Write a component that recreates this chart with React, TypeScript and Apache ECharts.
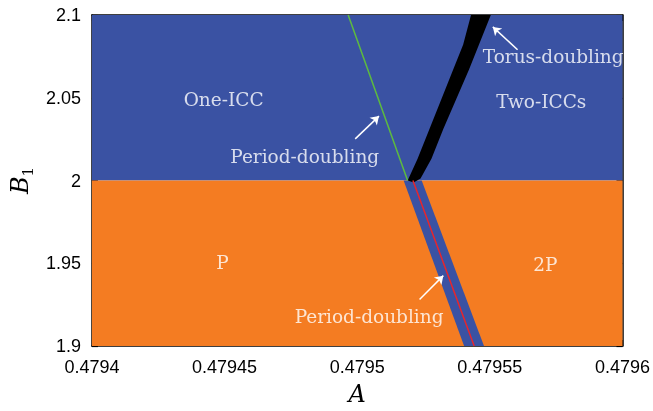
import React, { useEffect, useRef } from "react";
import * as echarts from "echarts";

// Axis ranges and ticks
const xMin = 0.4794;
const xMax = 0.4796;
const xStep = 0.00005;
const yMin = 1.9;
const yMax = 2.1;
const yStep = 0.05;
const yBoundary = 2.0;

// Regions
const upperRegion: number[][] = [[xMin, yBoundary], [xMax, yBoundary], [xMax, yMax], [xMin, yMax]];
const lowerRegion: number[][] = [[xMin, yMin], [xMax, yMin], [xMax, yBoundary], [xMin, yBoundary]];
const torusBand: number[][] = [
  [0.47951903, 2.0],
  [0.47952276, 2.01317],
  [0.47952724, 2.03114],
  [0.47953172, 2.0491],
  [0.47953619, 2.06707],
  [0.47953993, 2.08204],
  [0.47954291, 2.1],
  [0.47955037, 2.1],
  [0.47954664, 2.08503],
  [0.47954216, 2.06707],
  [0.47953731, 2.0491],
  [0.47953246, 2.03114],
  [0.47952799, 2.01317],
  [0.47952388, 2.0012],
  [0.47952127, 1.9988],
];
const twoPBand: number[][] = [
  [0.4795175, 2.0],
  [0.4795243, 2.0],
  [0.4795478, 1.9],
  [0.4795403, 1.9],
];
const greenLine: number[][] = [[0.4794966, 2.1], [0.479519, 2.0]];
const redLine: number[][] = [[0.479521, 2.0], [0.4795441, 1.9]];

// Annotation arrows [tail, head]
const arrows: number[][][] = [
  [[0.47949925, 2.02515], [0.47950821, 2.03892]],
  [[0.47956045, 2.07904], [0.47955112, 2.09281]],
  [[0.47952351, 1.92814], [0.47953246, 1.94251]],
];

// Annotation labels
const labelNames = ["One-ICC", "Period-doubling", "Two-ICCs", "Torus-doubling", "P", "2P", "Period-doubling"];
const labelX = [0.47944963, 0.47948022, 0.4795694, 0.47957388, 0.47944925, 0.4795709, 0.47950448];
const labelY = [2.0491, 2.01437, 2.0479, 2.07485, 1.9503, 1.9491, 1.91796];

const BLUE = "#3a52a3";
const ORANGE = "#f47c22";

function polySeries(points: number[][], color: string, z: number) {
  return {
    type: "custom",
    z,
    silent: true,
    clip: true,
    data: [0],
    renderItem: (_params: any, api: any) => ({
      type: "polygon",
      shape: { points: points.map((p) => api.coord(p)) },
      style: { fill: color, stroke: "none" },
    }),
  };
}

const fmt = (v: number) => String(parseFloat(v.toFixed(6)));

export default function App() {
  const ref = useRef<HTMLDivElement>(null);
  useEffect(() => {
    if (!ref.current) return;
    const chart = echarts.init(ref.current, undefined, { renderer: "svg" });
    const tickFont = { fontFamily: "Liberation Sans", fontSize: 18, color: "#000" };
    const axisLine = { show: true, lineStyle: { color: "#000", width: 1.5 } };
    const axisTick = { show: true, inside: true, length: 6, lineStyle: { color: "#000", width: 1.2 } };
    chart.setOption({
      animation: false,
      grid: { left: 87, right: 30, top: 15, bottom: 62 },
      xAxis: [
        {
          type: "value",
          min: xMin,
          max: xMax,
          interval: xStep,
          axisLine,
          axisTick,
          splitLine: { show: false },
          axisLabel: { ...tickFont, margin: 12, formatter: fmt },
          name: "A",
          nameLocation: "middle",
          nameGap: 36,
          nameTextStyle: { fontFamily: "DejaVu Serif", fontStyle: "italic", fontSize: 24, color: "#000" },
        },
        {
          type: "value",
          position: "top",
          min: xMin,
          max: xMax,
          interval: xStep,
          axisLine,
          axisTick,
          splitLine: { show: false },
          axisLabel: { show: false },
        },
      ],
      yAxis: [
        {
          type: "value",
          min: yMin,
          max: yMax,
          interval: yStep,
          axisLine,
          axisTick,
          splitLine: { show: false },
          axisLabel: { ...tickFont, margin: 11, formatter: fmt },
          name: "{b|B}{s|1}",
          nameLocation: "middle",
          nameRotate: 90,
          nameGap: 54,
          nameTextStyle: {
            rich: {
              b: { fontFamily: "DejaVu Serif", fontStyle: "italic", fontSize: 24, color: "#000" },
              s: { fontFamily: "DejaVu Serif", fontSize: 15, color: "#000", verticalAlign: "bottom", padding: [0, 0, -3, 0] },
            },
          },
        },
        {
          type: "value",
          position: "right",
          min: yMin,
          max: yMax,
          interval: yStep,
          axisLine,
          axisTick,
          splitLine: { show: false },
          axisLabel: { show: false },
        },
      ],
      series: [
        polySeries(upperRegion, BLUE, 1),
        polySeries(lowerRegion, ORANGE, 1),
        polySeries(twoPBand, BLUE, 2),
        polySeries(torusBand, "#000", 3),
        {
          type: "line",
          z: 4,
          data: redLine,
          showSymbol: false,
          silent: true,
          lineStyle: { color: "#e8252c", width: 1.5 },
        },
        {
          type: "line",
          z: 4,
          data: greenLine,
          showSymbol: false,
          silent: true,
          lineStyle: { color: "#5dbb3f", width: 1.5 },
        },
        {
          type: "lines",
          coordinateSystem: "cartesian2d",
          z: 5,
          silent: true,
          symbol: ["none", "arrow"],
          symbolSize: 8,
          lineStyle: { color: "#fff", width: 1.5, opacity: 1 },
          data: arrows.map((a) => ({ coords: a })),
        },
        {
          type: "scatter",
          z: 6,
          silent: true,
          symbolSize: 0,
          clip: false,
          data: labelNames.map((n, i) => ({ name: n, value: [labelX[i], labelY[i]] })),
          label: {
            show: true,
            position: "inside",
            formatter: (p: any) => p.name,
            fontFamily: "DejaVu Serif",
            fontSize: 18.5,
            color: "#fff",
          },
        },
      ],
    });
    return () => chart.dispose();
  }, []);
  return <div ref={ref} style={{ position: "fixed", left: 0, top: 0, width: 653, height: 411 }} />;
}
